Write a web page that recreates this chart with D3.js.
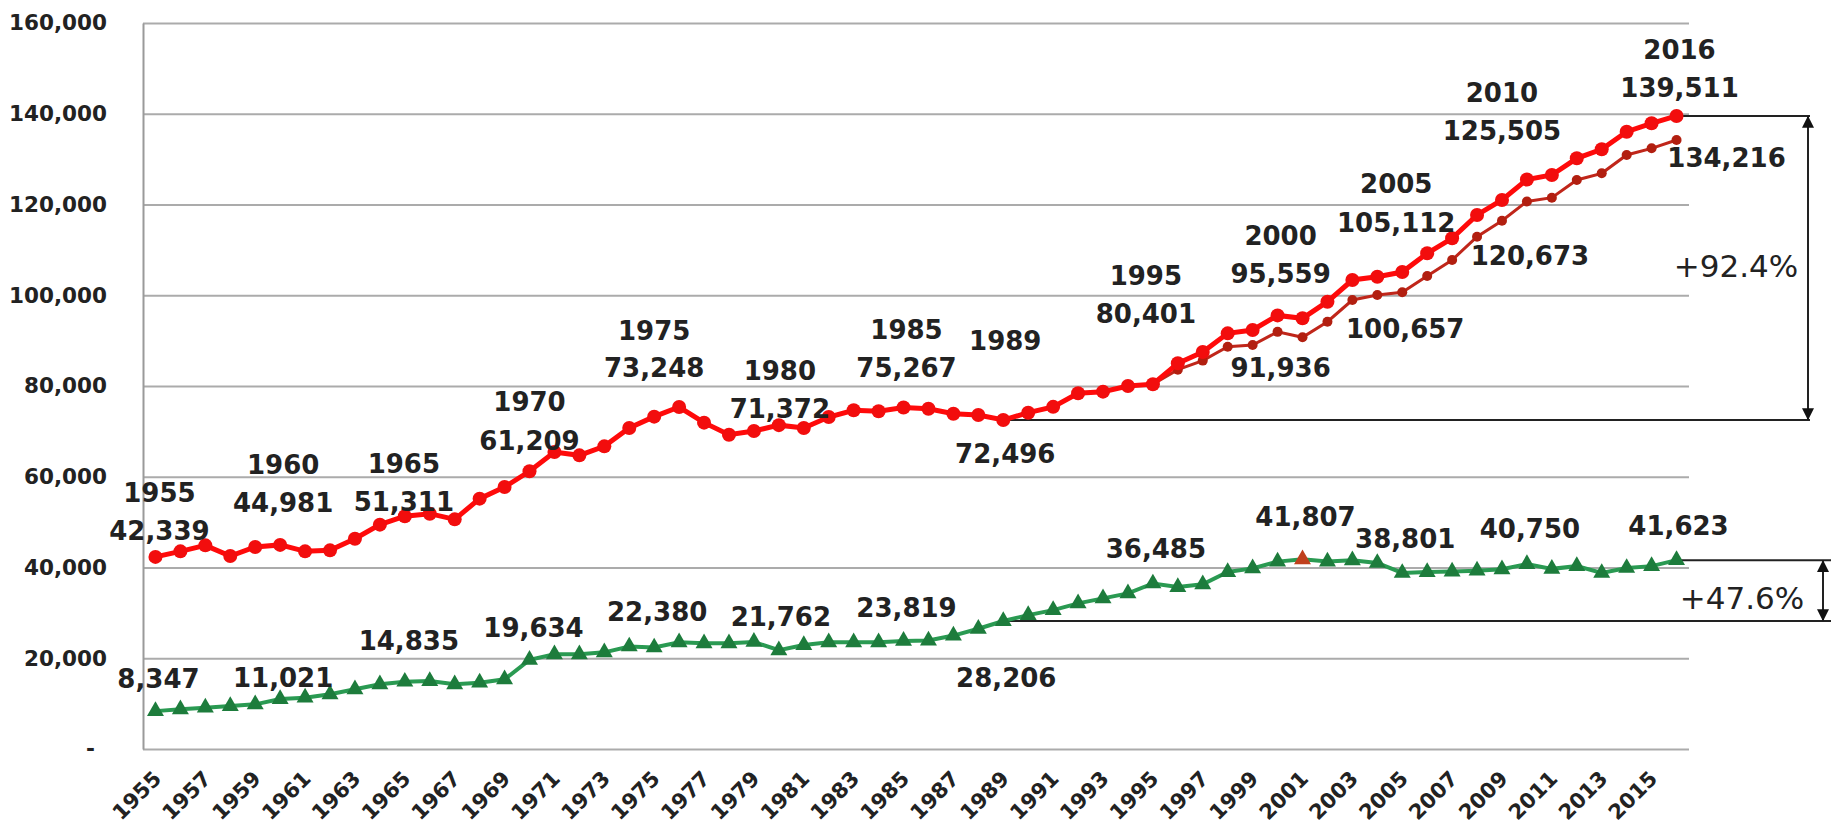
<!DOCTYPE html>
<html><head><meta charset="utf-8">
<script src="https://cdn.jsdelivr.net/npm/d3@7"></script>
<style>html,body{margin:0;padding:0;background:#fff;overflow:hidden}</style>
</head><body>
<svg id="chart" width="1831" height="824"></svg>
<script>
// ---------------- DATA ----------------
const years = [1955,1956,1957,1958,1959,1960,1961,1962,1963,1964,1965,1966,1967,1968,1969,
  1970,1971,1972,1973,1974,1975,1976,1977,1978,1979,1980,1981,1982,1983,1984,1985,1986,1987,
  1988,1989,1990,1991,1992,1993,1994,1995,1996,1997,1998,1999,2000,2001,2002,2003,2004,2005,
  2006,2007,2008,2009,2010,2011,2012,2013,2014,2015,2016];

const totalValues = [42339,43560,44880,42530,44520,44981,43560,43780,46350,49440,51311,51860,50610,
  55170,57740,61209,65450,64720,66700,70740,73248,75370,71920,69270,70080,71372,70740,73170,74640,
  74420,75267,75000,73900,73600,72496,74120,75400,78390,78750,80000,80401,85000,87500,91600,92340,
  95559,94920,98580,103360,104090,105112,109240,112550,117690,121000,125505,126500,130180,132160,
  136040,137900,139511];

const altYears = [1995,1996,1997,1998,1999,2000,2001,2002,2003,2004,2005,2006,2007,2008,2009,2010,
  2011,2012,2013,2014,2015,2016];
const altValues = [80401,83600,85600,88660,89030,91936,90730,94170,98950,100050,100657,104240,107770,
  112900,116430,120673,121500,125400,126870,130910,132380,134216];

const greenValues = [8347,8740,9110,9475,9840,11021,11310,12050,13150,14250,14835,14990,14250,14620,
  15350,19634,20860,20860,21300,22600,22380,23500,23300,23300,23600,21762,22900,23500,23500,23500,
  23819,23900,25000,26500,28206,29500,30600,32100,33200,34300,36485,35700,36300,39000,39800,41300,
  41807,41300,41600,41000,38801,39000,39100,39300,39600,40750,39700,40300,38800,39900,40300,41623];

const highlightYear = 2001;

const yTicks = [0,20000,40000,60000,80000,100000,120000,140000,160000];
const xTickYears = [1955,1957,1959,1961,1963,1965,1967,1969,1971,1973,1975,1977,1979,1981,1983,1985,
  1987,1989,1991,1993,1995,1997,1999,2001,2003,2005,2007,2009,2011,2013,2015];

const totalLabelYears = [1955,1960,1965,1970,1975,1980,1985,1989,1995,2000,2005,2010,2016];
const altLabelYears = [2000,2005,2010,2016];
const greenLabelYears = [1955,1960,1965,1970,1975,1980,1985,1989,1995,2001,2005,2010,2016];

const baseYear = 1989, endYear = 2016;

// ---------------- LAYOUT (label offsets in px relative to the point) ----------------
// [dx, value-baseline dy, year-baseline dy]
const totalLabelLayout = [[4,-17,-55],[3,-33,-71],[-1,-5,-43],[0,-21,-60],[0,-40,-77],[1,-7,-45],
  [3,-30,-68],[2,43,-70],[-7,-61,-99],[3,-32,-70],[-6,-40,-79],[-25,-40,-78],[3,-19,-57]];
const altLabelLayout = [[3,45],[3,46],[3,64],[50,27]];
const greenLabelLayout = [[3,-23],[3,-12],[4,-32],[4,-23],[3,-26],[2,-24],[3,-24],[3,66],[3,-25],
  [3,-33],[3,-25],[3,-26],[2,-25]];

// ---------------- CHART ----------------
const svg = d3.select("#chart");
const L = 143, R = 1689, T = 23, B = 749;
const FONT = "DejaVu Sans";

const x = d3.scaleBand().domain(years).range([L, R]).padding(0);
const cx = yr => x(yr) + x.bandwidth() / 2;
const y = d3.scaleLinear().domain([0, 160000]).range([B, T]);
const fmt = d3.format(",");

const totalMap = new Map(years.map((yr, i) => [yr, totalValues[i]]));
const greenMap = new Map(years.map((yr, i) => [yr, greenValues[i]]));
const altMap = new Map(altYears.map((yr, i) => [yr, altValues[i]]));

// grid
svg.append("g").attr("transform", `translate(${L},0)`)
  .call(d3.axisLeft(y).tickValues(yTicks).tickSize(-(R - L)).tickFormat(""))
  .call(g => g.select(".domain").remove())
  .selectAll("line").attr("stroke", "#ababab").attr("stroke-width", 2);

// y axis
const ya = svg.append("g").attr("transform", `translate(${L},0)`)
  .call(d3.axisLeft(y).tickValues(yTicks).tickSize(0).tickSizeOuter(0).tickPadding(36)
    .tickFormat(d => d === 0 ? "-" : fmt(d)));
ya.select(".domain").attr("stroke", "#9a9a9a").attr("stroke-width", 2);
ya.selectAll("text").attr("font-family", FONT).attr("font-weight", "bold")
  .attr("font-size", 21.5).attr("fill", "#222");
ya.selectAll(".tick").filter(d => d === 0).select("text").attr("dx", -12);

// x axis
const xa = svg.append("g").attr("transform", `translate(0,${B})`)
  .call(d3.axisBottom(x).tickValues(xTickYears).tickSize(0).tickFormat(d => String(d)));
xa.select(".domain").remove();
xa.selectAll("text").attr("y", 0).attr("dy", 0).attr("x", 0)
  .attr("text-anchor", "end").attr("transform", "translate(7,31) rotate(-45)")
  .attr("font-family", FONT).attr("font-weight", "bold").attr("font-size", 21).attr("fill", "#222");

// bracket annotations
const ann = svg.append("g").attr("stroke", "#222").attr("stroke-width", 2).attr("fill", "none");
const defs = svg.append("defs");
defs.append("marker").attr("id", "ah").attr("viewBox", "0 0 10 10").attr("refX", 9).attr("refY", 5)
  .attr("markerWidth", 6).attr("markerHeight", 6).attr("orient", "auto-start-reverse")
  .append("path").attr("d", "M0,0L10,5L0,10z").attr("fill", "#111");

const redArrowX = R + 119, greenArrowX = R + 134;
ann.append("line").attr("x1", cx(endYear)).attr("x2", redArrowX + 2)
  .attr("y1", y(totalMap.get(endYear))).attr("y2", y(totalMap.get(endYear)));
ann.append("line").attr("x1", cx(baseYear)).attr("x2", redArrowX + 2)
  .attr("y1", y(totalMap.get(baseYear))).attr("y2", y(totalMap.get(baseYear)));
ann.append("line").attr("x1", redArrowX).attr("x2", redArrowX)
  .attr("y1", y(totalMap.get(endYear)) + 1).attr("y2", y(totalMap.get(baseYear)) - 1)
  .attr("marker-start", "url(#ah)").attr("marker-end", "url(#ah)");

ann.append("line").attr("x1", cx(endYear)).attr("x2", 1831)
  .attr("y1", y(greenMap.get(endYear))).attr("y2", y(greenMap.get(endYear)));
ann.append("line").attr("x1", cx(baseYear)).attr("x2", 1831)
  .attr("y1", y(greenMap.get(baseYear))).attr("y2", y(greenMap.get(baseYear)));
ann.append("line").attr("x1", greenArrowX).attr("x2", greenArrowX)
  .attr("y1", y(greenMap.get(endYear)) + 1).attr("y2", y(greenMap.get(baseYear)) - 1)
  .attr("marker-start", "url(#ah)").attr("marker-end", "url(#ah)");

// lines
const line = d3.line().x(d => cx(d[0])).y(d => y(d[1]));
const totalPts = years.map((yr, i) => [yr, totalValues[i]]);
const altPts = altYears.map((yr, i) => [yr, altValues[i]]);
const greenPts = years.map((yr, i) => [yr, greenValues[i]]);

svg.append("path").datum(altPts).attr("d", line).attr("fill", "none")
  .attr("stroke", "#c0261a").attr("stroke-width", 3);
svg.append("g").selectAll("circle").data(altPts).join("circle")
  .attr("cx", d => cx(d[0])).attr("cy", d => y(d[1])).attr("r", 5).attr("fill", "#b21f10");

svg.append("path").datum(totalPts).attr("d", line).attr("fill", "none")
  .attr("stroke", "#ff0a0a").attr("stroke-width", 5);
svg.append("g").selectAll("circle").data(totalPts).join("circle")
  .attr("cx", d => cx(d[0])).attr("cy", d => y(d[1])).attr("r", 7).attr("fill", "#f20d0d");

svg.append("path").datum(greenPts).attr("d", line).attr("fill", "none")
  .attr("stroke", "#2a9a52").attr("stroke-width", 4);
svg.append("g").selectAll("path").data(greenPts).join("path")
  .attr("transform", d => `translate(${cx(d[0])},${y(d[1])})`)
  .attr("d", d3.symbol(d3.symbolTriangle, 125))
  .attr("fill", d => d[0] === highlightYear ? "#c0401c" : "#1d7c3c");

// labels
const lab = svg.append("g").attr("font-family", FONT).attr("font-weight", "bold")
  .attr("font-size", 26).attr("fill", "#222").attr("text-anchor", "middle");

totalLabelYears.forEach((yr, i) => {
  const [dx, vy, yy] = totalLabelLayout[i];
  const px = cx(yr), py = y(totalMap.get(yr));
  lab.append("text").attr("x", px + dx).attr("y", py + yy).text(String(yr));
  lab.append("text").attr("x", px + dx).attr("y", py + vy).text(fmt(totalMap.get(yr)));
});
altLabelYears.forEach((yr, i) => {
  const [dx, vy] = altLabelLayout[i];
  lab.append("text").attr("x", cx(yr) + dx).attr("y", y(altMap.get(yr)) + vy).text(fmt(altMap.get(yr)));
});
greenLabelYears.forEach((yr, i) => {
  const [dx, vy] = greenLabelLayout[i];
  lab.append("text").attr("x", cx(yr) + dx).attr("y", y(greenMap.get(yr)) + vy).text(fmt(greenMap.get(yr)));
});

// percentage labels
const pct = d3.format(".1f");
const redGrowth = (totalMap.get(endYear) / totalMap.get(baseYear) - 1) * 100;
const greenGrowth = (greenMap.get(endYear) / greenMap.get(baseYear) - 1) * 100;
const pg = svg.append("g").attr("font-family", FONT).attr("font-size", 31).attr("fill", "#222")
  .attr("text-anchor", "middle");
pg.append("text").attr("x", R + 47).attr("y", (y(totalMap.get(endYear)) + y(totalMap.get(baseYear))) / 2 + 9)
  .text("+" + pct(redGrowth) + "%");
pg.append("text").attr("x", R + 53).attr("y", (y(greenMap.get(endYear)) + y(greenMap.get(baseYear))) / 2 + 18)
  .text("+" + pct(greenGrowth) + "%");
</script>
</body></html>
